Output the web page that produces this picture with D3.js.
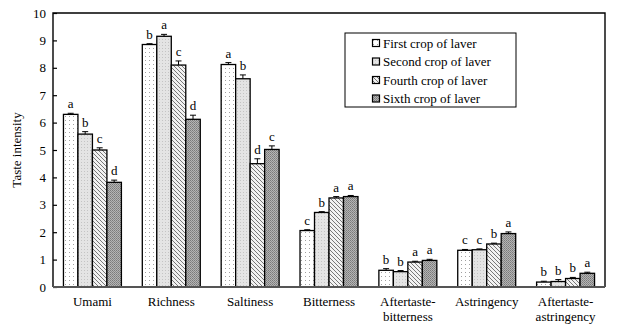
<!DOCTYPE html>
<html><head><meta charset="utf-8">
<script src="https://cdn.jsdelivr.net/npm/d3@7"></script>
<style>body{margin:0;background:#fff}svg{display:block}</style>
</head><body>
<script>
const categories = ["Umami","Richness","Saltiness","Bitterness","Aftertaste-\nbitterness","Astringency","Aftertaste-\nastringency"];
const seriesNames = ["First crop of laver","Second crop of laver","Fourth crop of laver","Sixth crop of laver"];
const first  = [6.30, 8.85, 8.12, 2.06, 0.61, 1.34, 0.18];
const second = [5.58, 9.15, 7.60, 2.72, 0.56, 1.36, 0.20];
const fourth = [5.00, 8.10, 4.50, 3.25, 0.91, 1.57, 0.31];
const sixth  = [3.82, 6.12, 5.02, 3.30, 0.97, 1.95, 0.50];
const errFirst  = [0.04, 0.03, 0.07, 0.03, 0.06, 0.03, 0.03];
const errSecond = [0.09, 0.07, 0.14, 0.03, 0.04, 0.03, 0.07];
const errFourth = [0.08, 0.15, 0.18, 0.05, 0.03, 0.03, 0.04];
const errSixth  = [0.08, 0.15, 0.13, 0.04, 0.04, 0.06, 0.04];
const lettersFirst  = ["a","b","a","c","b","c","b"];
const lettersSecond = ["b","a","b","b","b","c","b"];
const lettersFourth = ["c","c","d","a","a","b","b"];
const lettersSixth  = ["d","d","c","a","a","a","a"];
const yTicks = [0,1,2,3,4,5,6,7,8,9,10];

(function(){
const FONT="'Liberation Serif','Times New Roman',serif";
const FS=13;
const W=617,H=332;
const svg=d3.select("body").append("svg").attr("width",W).attr("height",H);
const defs=svg.append("defs");
const p1=defs.append("pattern").attr("id","pat0").attr("patternUnits","userSpaceOnUse").attr("width",4).attr("height",4);
p1.append("rect").attr("width",4).attr("height",4).attr("fill","#fff");
p1.append("rect").attr("x",1).attr("y",0).attr("width",1).attr("height",1).attr("fill","#a0a0a0");
const p2=defs.append("pattern").attr("id","pat1").attr("patternUnits","userSpaceOnUse").attr("width",3).attr("height",3);
p2.append("rect").attr("width",3).attr("height",3).attr("fill","#e4e4e4");
p2.append("rect").attr("x",0).attr("y",0).attr("width",1).attr("height",1).attr("fill","#c4c4c4");
const p3=defs.append("pattern").attr("id","pat2").attr("patternUnits","userSpaceOnUse").attr("width",4).attr("height",4);
p3.append("rect").attr("width",4).attr("height",4).attr("fill","#f2f2f2");
p3.append("path").attr("d","M-1,-1 L5,5 M-1,3 L1,5 M3,-1 L5,1").attr("stroke","#6a6a6a").attr("stroke-width",0.9);
const p4=defs.append("pattern").attr("id","pat3").attr("patternUnits","userSpaceOnUse").attr("width",2).attr("height",2);
p4.append("rect").attr("width",2).attr("height",2).attr("fill","#b4b4b4");
p4.append("rect").attr("x",0).attr("y",0).attr("width",1).attr("height",1).attr("fill","#7a7a7a");
p4.append("rect").attr("x",1).attr("y",1).attr("width",1).attr("height",1).attr("fill","#8a8a8a");

const mLeft=53,mRight=605,mTop=13,mBottom=287;
const x=d3.scaleBand().domain(categories).range([mLeft,mRight]).paddingInner(0.265).paddingOuter(0.1325);
const x1=d3.scaleBand().domain(d3.range(4)).range([0,x.bandwidth()]);
const y=d3.scaleLinear().domain([0,10]).range([mBottom,mTop]);

const values=[first,second,fourth,sixth];
const errs=[errFirst,errSecond,errFourth,errSixth];
const letters=[lettersFirst,lettersSecond,lettersFourth,lettersSixth];

const data=[];
categories.forEach((c,i)=>{for(let s=0;s<4;s++)data.push({c,s,v:values[s][i],e:errs[s][i],l:letters[s][i]});});
const g=svg.append("g");
g.selectAll("rect.bar").data(data).enter().append("rect")
 .attr("x",d=>x(d.c)+x1(d.s)).attr("y",d=>y(d.v))
 .attr("width",x1.bandwidth()).attr("height",d=>y(0)-y(d.v))
 .attr("fill",d=>`url(#pat${d.s})`).attr("stroke","#000").attr("stroke-width",1.3);
data.forEach(d=>{
  const cx=x(d.c)+x1(d.s)+x1.bandwidth()/2;
  g.append("line").attr("x1",cx).attr("x2",cx).attr("y1",y(d.v)).attr("y2",y(d.v+d.e)).attr("stroke","#000").attr("stroke-width",1);
  g.append("line").attr("x1",cx-3).attr("x2",cx+3).attr("y1",y(d.v+d.e)).attr("y2",y(d.v+d.e)).attr("stroke","#000").attr("stroke-width",1);
  g.append("text").attr("x",cx).attr("y",y(d.v+d.e)-5).attr("text-anchor","middle").attr("font-family",FONT).attr("font-size",FS).attr("fill","#000").text(d.l);
});

const ya=svg.append("g").attr("transform",`translate(${mLeft},0)`)
 .call(d3.axisLeft(y).tickValues(yTicks).tickSize(-4).tickPadding(7).tickFormat(d3.format("d")));
ya.attr("font-family",FONT).attr("font-size",FS);
ya.select(".domain").remove();
ya.selectAll("line").attr("stroke","#000").attr("stroke-width",1.2);
ya.selectAll("text").attr("fill","#000");
svg.append("path").attr("d",`M${mLeft},${mBottom}V${mTop}H${mRight}V${mBottom}`).attr("fill","none").attr("stroke","#000").attr("stroke-width",1.4);
svg.append("line").attr("x1",mLeft).attr("x2",mRight).attr("y1",mBottom).attr("y2",mBottom).attr("stroke","#555").attr("stroke-width",2);

categories.forEach(c=>{
  const lines=c.split("\n");
  const t=svg.append("text").attr("x",x(c)+x.bandwidth()/2).attr("y",306).attr("text-anchor","middle").attr("font-family",FONT).attr("font-size",FS).attr("fill","#000");
  lines.forEach((ln,i)=>t.append("tspan").attr("x",x(c)+x.bandwidth()/2).attr("dy",i?15:0).text(ln));
});
svg.append("text").attr("transform","translate(21,150) rotate(-90)").attr("text-anchor","middle").attr("font-family",FONT).attr("font-size",FS).attr("fill","#000").text("Taste intensity");

svg.append("rect").attr("x",345).attr("y",33).attr("width",171).attr("height",74).attr("fill","#fff").attr("stroke","#000").attr("stroke-width",1);
seriesNames.forEach((n,i)=>{
  const yy=43+i*18.5;
  svg.append("rect").attr("x",372.5).attr("y",yy-3.5).attr("width",7).attr("height",7).attr("fill",`url(#pat${i})`).attr("stroke","#000").attr("stroke-width",1.2);
  svg.append("text").attr("x",383).attr("y",yy+4.5).attr("font-family",FONT).attr("font-size",FS).attr("fill","#000").text(n);
});
})();
</script>
</body></html>
